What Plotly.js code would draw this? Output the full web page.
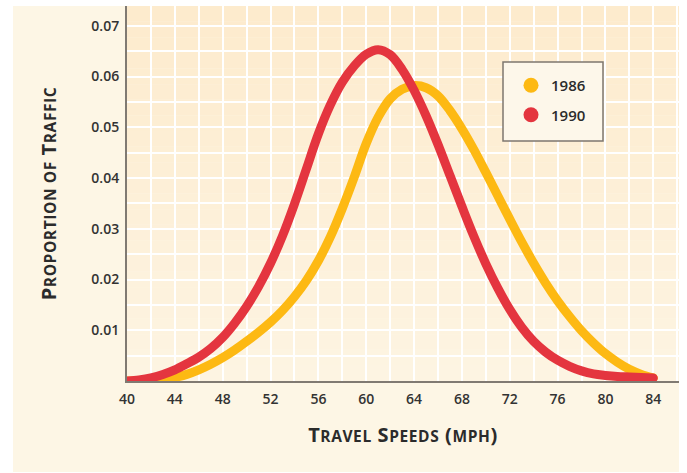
<!DOCTYPE html>
<html>
<head>
<meta charset="utf-8">
<script src="https://cdn.plot.ly/plotly-3.0.1.min.js"></script>
<style>
  html, body { margin: 0; padding: 0; background: #ffffff; }
  #chart { width: 687px; height: 473px; }
  .js-line { stroke-linecap: round; }
  .g-xtitle text, .g-ytitle text { letter-spacing: 0.6px; }
</style>
</head>
<body>
<div id="chart"></div>
<script>
// Travel speed (mph)
const speeds = [40,41,42,43,44,45,46,47,48,49,50,51,52,53,54,55,56,57,58,59,60,61,62,63,64,65,66,67,68,69,70,71,72,73,74,75,76,77,78,79,80,81,82,83,84];
// Proportion of traffic, 1986
const share1986 = [0,0,0.0001,0.0003,0.0007,0.0013,0.0022,0.0033,0.0046,0.0061,0.0078,0.0096,0.0116,0.0139,0.0166,0.0198,0.0237,0.0284,0.034,0.0402,0.0468,0.052,0.0556,0.0575,0.0582,0.0578,0.0562,0.0533,0.0497,0.0456,0.0411,0.0365,0.0319,0.0274,0.0232,0.0193,0.0158,0.0127,0.0099,0.0075,0.0054,0.0037,0.0023,0.0013,0.0006];
// Proportion of traffic, 1990
const share1990 = [0,0.0002,0.0006,0.0013,0.0022,0.0034,0.0047,0.0064,0.0086,0.0114,0.0147,0.0186,0.0232,0.0286,0.0349,0.0418,0.0487,0.0544,0.0589,0.0621,0.0644,0.0653,0.0643,0.0614,0.0573,0.0523,0.0466,0.0405,0.0344,0.0285,0.0231,0.0183,0.0141,0.0106,0.0078,0.0057,0.0041,0.0029,0.002,0.0014,0.0011,0.0009,0.0008,0.0007,0.0006];

const seriesNames = ['1986', '1990'];
const xTickVals = [40,44,48,52,56,60,64,68,72,76,80,84];
const yTickVals = [0.01,0.02,0.03,0.04,0.05,0.06,0.07];
const yTickText = ['0.01','0.02','0.03','0.04','0.05','0.06','0.07'];

const YELLOW = '#fdb913';
const RED = '#e4353f';
const TICKFONT = { family: 'Open Sans, sans-serif', size: 14, color: '#333333', weight: 600 };
const TITLEFONT = { family: 'Open Sans, sans-serif', size: 20, color: '#2b2b2b', weight: 700 };
const SMALL = 'font-size:15.5px';

const traces = [
  { x: speeds, y: share1986, type: 'scatter', mode: 'lines', line: { color: YELLOW, width: 9, shape: 'spline', smoothing: 1 }, showlegend: false, cliponaxis: false, hoverinfo: 'skip' },
  { x: speeds, y: share1990, type: 'scatter', mode: 'lines', line: { color: RED, width: 9, shape: 'spline', smoothing: 1 }, showlegend: false, cliponaxis: false, hoverinfo: 'skip' },
  { x: [null], y: [null], type: 'scatter', mode: 'markers', name: seriesNames[0], marker: { color: YELLOW, size: 15 }, legendgroup: 'a' },
  { x: [null], y: [null], type: 'scatter', mode: 'markers', name: seriesNames[1], marker: { color: RED, size: 15 }, legendgroup: 'b' }
];

const L = 127, R = 8, T = 6, B = 92, W = 687, H = 473;
const pw = W - L - R, ph = H - T - B;
const px = v => (v - L) / pw;
const py = v => (H - B - v) / ph;

// soft vertical gradient of the plot background (deeper cream at top)
const bgBands = [];
const NB = 24;
for (let i = 0; i < NB; i++) {
  const t = i / (NB - 1);
  const g = Math.round(0xeb + (0xf4 - 0xeb) * t);
  const b = Math.round(0xcd + (0xe2 - 0xcd) * t);
  bgBands.push({ type: 'rect', xref: 'paper', yref: 'paper', x0: 0, x1: 1,
    y1: 1 - i / NB, y0: 1 - (i + 1) / NB,
    fillcolor: 'rgb(253,' + g + ',' + b + ')', line: { width: 0 }, layer: 'below' });
}

const layout = {
  width: W, height: H,
  margin: { l: L, r: R, t: T, b: B, pad: 0 },
  paper_bgcolor: '#ffffff',
  plot_bgcolor: '#fdefd4',
  showlegend: true,
  legend: {
    x: px(511), y: py(69), xanchor: 'left', yanchor: 'top',
    bgcolor: 'rgba(0,0,0,0)', borderwidth: 0,
    font: { family: 'Open Sans, sans-serif', size: 15, color: '#2b2b2b', weight: 600 },
    tracegroupgap: 7, traceorder: 'grouped'
  },
  xaxis: {
    range: [40, 86.15],
    tickmode: 'array', tickvals: xTickVals,
    tickfont: TICKFONT, ticks: 'outside', ticklen: 5, tickcolor: 'rgba(0,0,0,0)',
    showgrid: true, gridcolor: '#ffffff', gridwidth: 2,
    minor: { dtick: 2, tick0: 40, showgrid: true, gridcolor: '#ffffff', gridwidth: 2, ticks: '' },
    showline: true, linecolor: '#807a72', linewidth: 1.5,
    zeroline: false,
    title: {
      text: 'T<span style="' + SMALL + '">RAVEL</span> S<span style="' + SMALL + '">PEEDS</span> (<span style="' + SMALL + '">MPH</span>)',
      font: TITLEFONT,
      standoff: 20
    }
  },
  yaxis: {
    range: [0, 0.0739],
    tickmode: 'array', tickvals: yTickVals, ticktext: yTickText,
    tickfont: TICKFONT, ticks: 'outside', ticklen: 3, tickcolor: 'rgba(0,0,0,0)',
    showgrid: true, gridcolor: '#ffffff', gridwidth: 2,
    minor: { dtick: 0.005, tick0: 0, showgrid: true, gridcolor: '#ffffff', gridwidth: 2, ticks: '' },
    showline: true, linecolor: '#807a72', linewidth: 2,
    zeroline: false,
    title: {
      text: 'P<span style="' + SMALL + '">ROPORTION OF</span> T<span style="' + SMALL + '">RAFFIC</span>',
      font: TITLEFONT,
      standoff: 29
    }
  },
  shapes: [
    { type: 'rect', xref: 'paper', yref: 'paper', x0: px(13), x1: px(679), y0: py(472), y1: py(6), fillcolor: '#fdf6e5', line: { width: 0 }, layer: 'below' }
  ].concat(bgBands).concat([
    { type: 'rect', xref: 'paper', yref: 'paper', x0: px(503), x1: px(603), y0: py(141), y1: py(62), fillcolor: '#fdf7ea', line: { color: '#7d776f', width: 1.5 }, layer: 'above' }
  ])
};

Plotly.newPlot('chart', traces, layout, { displayModeBar: false, staticPlot: true });
</script>
</body>
</html>
